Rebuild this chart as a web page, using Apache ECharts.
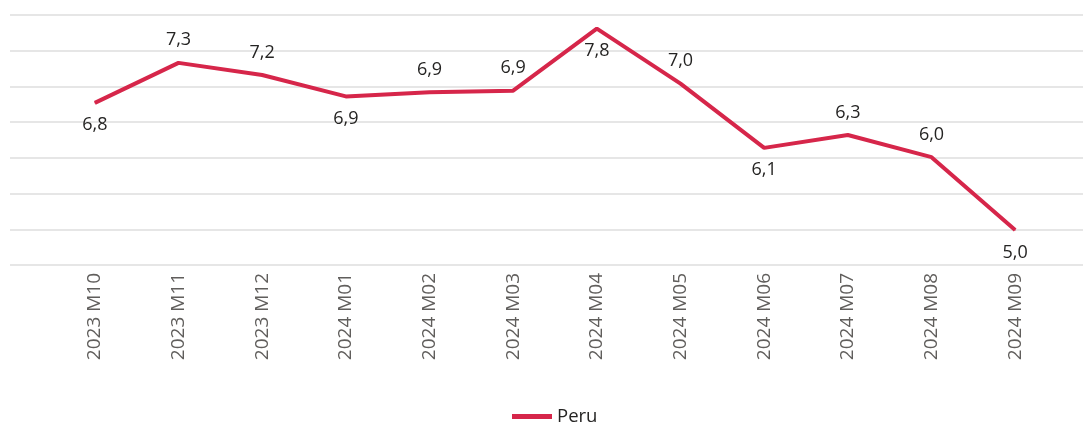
<!DOCTYPE html>
<html>
<head>
<meta charset="utf-8">
<script src="https://cdn.jsdelivr.net/npm/echarts@6/dist/echarts.min.js"></script>
<style>
html,body{margin:0;padding:0;background:#fff;}
#chart{width:1083px;height:422px;}
</style>
</head>
<body>
<div id="chart"></div>
<script>
const categories = ['2023 M10','2023 M11','2023 M12','2024 M01','2024 M02','2024 M03','2024 M04','2024 M05','2024 M06','2024 M07','2024 M08','2024 M09'];
const peru = [6.77, 7.33, 7.16, 6.86, 6.92, 6.94, 7.81, 7.04, 6.14, 6.32, 6.01, 4.99];
const labelPlacement = ['bottom','top','top','bottom','top','top','bottom','top','bottom','top','top','bottom'];
const seriesName = 'Peru';

const yMin = 4.5, yMax = 8.0, yStep = 0.5;
const lineColor = '#D6264A';
const font = 'Open Sans';

const chart = echarts.init(document.getElementById('chart'));
chart.setOption({
  animation: false,
  backgroundColor: '#ffffff',
  grid: [
    {left: 10, right: 0, top: 15, bottom: 157},
    {left: 53, right: 26, top: 15, bottom: 157}
  ],
  xAxis: [
    {gridIndex: 0, type: 'value', min: 0, max: 1, show: false},
    {
      gridIndex: 1, type: 'category', data: categories, boundaryGap: true,
      axisLine: {show: false}, axisTick: {show: false},
      axisLabel: {rotate: 90, margin: 8, color: '#605E5C', fontFamily: font, fontSize: 19, interval: 0}
    }
  ],
  yAxis: [
    {
      gridIndex: 0, type: 'value', min: yMin, max: yMax, interval: yStep,
      axisLabel: {show: false}, axisLine: {show: false}, axisTick: {show: false},
      splitLine: {show: true, lineStyle: {color: '#E6E6E6', width: 2}}
    },
    {
      gridIndex: 1, type: 'value', min: yMin, max: yMax, interval: yStep,
      show: false, splitLine: {show: false}
    }
  ],
  legend: {
    show: true, left: 507, top: 402,
    icon: 'rect', itemWidth: 40, itemHeight: 5, itemGap: 11,
    textStyle: {color: '#252423', fontFamily: font, fontSize: 18.5},
    data: [seriesName]
  },
  series: [{
    name: seriesName,
    type: 'line',
    xAxisIndex: 1, yAxisIndex: 1,
    data: peru.map((v, i) => ({
      value: v,
      label: {position: labelPlacement[i]}
    })),
    symbol: 'circle', symbolSize: 1, showSymbol: true,
    lineStyle: {color: lineColor, width: 4},
    itemStyle: {color: lineColor},
    label: {
      show: true, distance: 13, color: '#252423', fontFamily: font, fontSize: 18,
      formatter: p => p.value.toFixed(1).replace('.', ',')
    }
  }]
});
</script>
</body>
</html>
